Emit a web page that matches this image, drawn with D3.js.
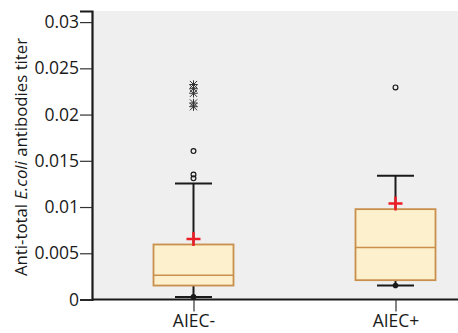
<!DOCTYPE html>
<html>
<head>
<meta charset="utf-8">
<script src="https://cdn.jsdelivr.net/npm/d3@7"></script>
<style>
  body { margin: 0; background: #fff; }
  svg text { font-family: "Open Sans", "Noto Sans", sans-serif; fill: #1a1a1a; }
</style>
</head>
<body>
<div id="chart"></div>
<script>
// Box plot values

const groups = ["AIEC-", "AIEC+"];
const q1 = [0.00151, 0.00209];
const median = [0.00263, 0.00563];
const q3 = [0.00595, 0.00977];
const whiskerLow = [0.00028, 0.00151];
const whiskerHigh = [0.01255, 0.01338];
const means = [0.00653, 0.01039];
// outliers: circles (mild) and asterisks (extreme)
const mildOutliers = [
    [0.01352, 0.01310, 0.01605],
    [0.02294]
];
const extremeOutliers = [
    [0.02325, 0.02280, 0.02230, 0.02125, 0.02085],
    []
];
const yTicks = [0, 0.005, 0.01, 0.015, 0.02, 0.025, 0.03];

const w = 458;
const h = 333;
const plotLeft = 92;
const plotTop = 11;
const plotBottom = 299.5;

const svg = d3.select("#chart")
.append("svg")
.attr("width", w)
.attr("height", h)

// grey plot background
svg.append("rect")
.attr("x", plotLeft)
.attr("y", plotTop)
.attr("width", w - plotLeft)
.attr("height", plotBottom - plotTop)
.attr("fill", "#efefef")

const yScale = d3.scaleLinear()
.domain([0, 0.0312])
.range([plotBottom, plotTop])

const xScale = d3.scalePoint()
.domain(groups)
.range([193.5, 395.5])

const yAxis = d3.axisLeft(yScale)
.tickValues(yTicks)
.tickFormat(d => d === 0 ? "0" : String(+d.toFixed(3)))
.tickSize(12)
.tickPadding(1)

const xAxis = d3.axisBottom(xScale).tickSize(12).tickPadding(3);

const gy = svg.append("g")
.attr("transform", "translate(" + plotLeft + ",0)")
.call(yAxis)
gy.select(".domain").attr("stroke", "#1a1a1a").attr("stroke-width", 2.2)
gy.selectAll(".tick line").attr("stroke", "#333").attr("stroke-width", 1.2)
gy.selectAll(".tick text").attr("font-size", 17.5).attr("fill", "#1a1a1a")

const gx = svg.append("g")
.attr("transform", "translate(0," + plotBottom + ")")
.call(xAxis)
gx.select(".domain").attr("d", "M" + plotLeft + ",0H" + w).attr("stroke", "#1a1a1a").attr("stroke-width", 2.2)
gx.selectAll(".tick line").attr("stroke", "#333").attr("stroke-width", 1.2)
gx.selectAll(".tick text").attr("font-size", 17.5).attr("fill", "#1a1a1a")

// y axis title with italic E.coli
const title = svg.append("text")
.attr("transform", "translate(26.5,157) rotate(-90)")
.attr("text-anchor", "middle")
.attr("font-size", 16.8)
title.append("tspan").text("Anti-total ")
title.append("tspan").attr("font-style", "italic").text("E.coli")
title.append("tspan").text(" antibodies titer")

const boxW = 80;
const capW = 37;

const boxes = svg.selectAll("g.box")
.data(groups)
.enter()
.append("g")
.attr("class", "box")

// whiskers
boxes.append("line")
.attr("x1", d => xScale(d))
.attr("x2", d => xScale(d))
.attr("y1", (d, i) => yScale(whiskerHigh[i]))
.attr("y2", (d, i) => yScale(q3[i]))
.attr("stroke", "#1a1a1a")
.attr("stroke-width", 2)

boxes.append("line")
.attr("x1", d => xScale(d))
.attr("x2", d => xScale(d))
.attr("y1", (d, i) => yScale(whiskerLow[i]))
.attr("y2", (d, i) => yScale(q1[i]))
.attr("stroke", "#1a1a1a")
.attr("stroke-width", 2)

boxes.append("line")
.attr("x1", d => xScale(d) - capW / 2)
.attr("x2", d => xScale(d) + capW / 2)
.attr("y1", (d, i) => yScale(whiskerHigh[i]))
.attr("y2", (d, i) => yScale(whiskerHigh[i]))
.attr("stroke", "#1a1a1a")
.attr("stroke-width", 2)

boxes.append("line")
.attr("x1", d => xScale(d) - capW / 2)
.attr("x2", d => xScale(d) + capW / 2)
.attr("y1", (d, i) => yScale(whiskerLow[i]))
.attr("y2", (d, i) => yScale(whiskerLow[i]))
.attr("stroke", "#1a1a1a")
.attr("stroke-width", 2)

// minimum dot
boxes.append("circle")
.attr("cx", d => xScale(d))
.attr("cy", (d, i) => yScale(whiskerLow[i]))
.attr("r", 2.8)
.attr("fill", "#1a1a1a")

// box
boxes.append("rect")
.attr("x", d => xScale(d) - boxW / 2)
.attr("y", (d, i) => yScale(q3[i]))
.attr("width", boxW)
.attr("height", (d, i) => yScale(q1[i]) - yScale(q3[i]))
.attr("fill", "#fdf0cc")
.attr("stroke", "#c98f4c")
.attr("stroke-width", 1.8)

boxes.append("line")
.attr("x1", d => xScale(d) - boxW / 2)
.attr("x2", d => xScale(d) + boxW / 2)
.attr("y1", (d, i) => yScale(median[i]))
.attr("y2", (d, i) => yScale(median[i]))
.attr("stroke", "#c98f4c")
.attr("stroke-width", 1.5)

// mean cross
boxes.append("path")
.attr("d", (d, i) => {
    let cx = xScale(d);
    let cy = yScale(means[i]);
    return "M" + (cx - 7) + "," + cy + "H" + (cx + 7) + "M" + cx + "," + (cy - 7) + "V" + (cy + 7);
})
.attr("stroke", "#ee1c24")
.attr("stroke-width", 2.5)

// mild outliers as open circles, extreme ones as asterisks
boxes.each(function(d, i) {
    d3.select(this).selectAll("circle.out")
    .data(mildOutliers[i])
    .enter()
    .append("circle")
    .attr("class", "out")
    .attr("cx", xScale(d))
    .attr("cy", v => yScale(v))
    .attr("r", 2.4)
    .attr("fill", "none")
    .attr("stroke", "#1a1a1a")
    .attr("stroke-width", 1.2)

    d3.select(this).selectAll("path.ext")
    .data(extremeOutliers[i])
    .enter()
    .append("path")
    .attr("class", "ext")
    .attr("d", v => {
        let cx = xScale(d);
        let cy = yScale(v);
        let r = 3.6;
        return "M" + (cx - r) + "," + (cy - r) + "L" + (cx + r) + "," + (cy + r) +
            "M" + (cx - r) + "," + (cy + r) + "L" + (cx + r) + "," + (cy - r) +
            "M" + cx + "," + (cy - r - 0.6) + "V" + (cy + r + 0.6) +
            "M" + (cx - r - 0.6) + "," + cy + "H" + (cx + r + 0.6);
    })
    .attr("stroke", "#333")
    .attr("stroke-width", 1)
})
</script>
</body>
</html>
